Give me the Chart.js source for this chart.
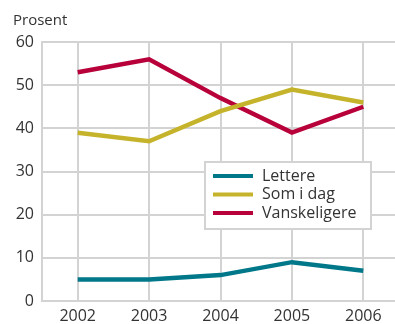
<!DOCTYPE html>
<html>
<head>
<meta charset="utf-8">
<script src="https://cdn.jsdelivr.net/npm/chart.js@4"></script>
<style>
  html, body { margin: 0; padding: 0; background: #fff; overflow: hidden; }
  #wrap { width: 399px; height: 324px; }
</style>
</head>
<body>
<div id="wrap"><canvas id="myChart" width="399" height="324"></canvas></div>
<script>
const aar = ["2002", "2003", "2004", "2005", "2006"];
const lettere = [5, 5, 6, 9, 7];
const somIDag = [39, 37, 44, 49, 46];
const vanskeligere = [53, 56, 47, 39, 45];
const yTicks = [0, 10, 20, 30, 40, 50, 60];

const fontFamily = "'Open Sans', 'DejaVu Sans', sans-serif";
const tekstFarge = "#333333";
const gridFarge = "#d3d3d3";

// Tegner "Prosent" og forklaringsboksen inne i plottet
const ekstraTegning = {
  id: "ekstraTegning",
  afterDraw(chart) {
    const ctx = chart.ctx;
    ctx.save();
    ctx.fillStyle = tekstFarge;
    ctx.font = "15px " + fontFamily;
    ctx.textBaseline = "middle";
    ctx.textAlign = "left";
    ctx.fillText("Prosent", 13, 21);

    const x = 205, y = 162, w = 166, h = 67;
    ctx.fillStyle = "#fff";
    ctx.fillRect(x, y, w, h);
    ctx.strokeStyle = gridFarge;
    ctx.lineWidth = 2;
    ctx.strokeRect(x, y, w, h);

    ctx.font = "16px " + fontFamily;
    chart.data.datasets.forEach((ds, i) => {
      const ry = y + 14 + i * 18.5;
      ctx.strokeStyle = ds.borderColor;
      ctx.lineWidth = 4;
      ctx.beginPath();
      ctx.moveTo(213, ry);
      ctx.lineTo(253, ry);
      ctx.stroke();
      ctx.fillStyle = tekstFarge;
      ctx.fillText(ds.label, 262, ry);
    });
    ctx.restore();
  },
};

const config = {
  type: "line",
  data: {
    labels: aar,
    datasets: [
      { label: "Lettere", data: lettere, borderColor: "#00788a" },
      { label: "Som i dag", data: somIDag, borderColor: "#c5b42b" },
      { label: "Vanskeligere", data: vanskeligere, borderColor: "#b8003a" },
    ],
  },
  options: {
    responsive: false,
    animation: false,
    layout: { padding: { top: 42, right: 0, left: 0, bottom: 0 } },
    elements: {
      line: { borderWidth: 4.5, tension: 0, borderJoinStyle: "miter" },
      point: { radius: 0 },
    },
    plugins: { legend: { display: false }, tooltip: { enabled: false } },
    scales: {
      x: {
        offset: true,
        grid: { color: gridFarge, lineWidth: 2, drawTicks: false, offset: false },
        border: { color: gridFarge, width: 2 },
        ticks: { color: tekstFarge, font: { size: 16, family: fontFamily }, padding: 6, maxRotation: 0 },
        afterFit(scale) { scale.height = 23; },
      },
      y: {
        min: 0,
        max: 60,
        afterBuildTicks(scale) { scale.ticks = yTicks.map((v) => ({ value: v })); },
        grid: { color: gridFarge, lineWidth: 2, drawTicks: false },
        border: { color: gridFarge, width: 2 },
        ticks: { color: tekstFarge, font: { size: 16, family: fontFamily }, padding: 8 },
        afterFit(scale) { scale.width = 42; },
      },
    },
  },
  plugins: [ekstraTegning],
};

new Chart(document.getElementById("myChart"), config);
</script>
</body>
</html>
